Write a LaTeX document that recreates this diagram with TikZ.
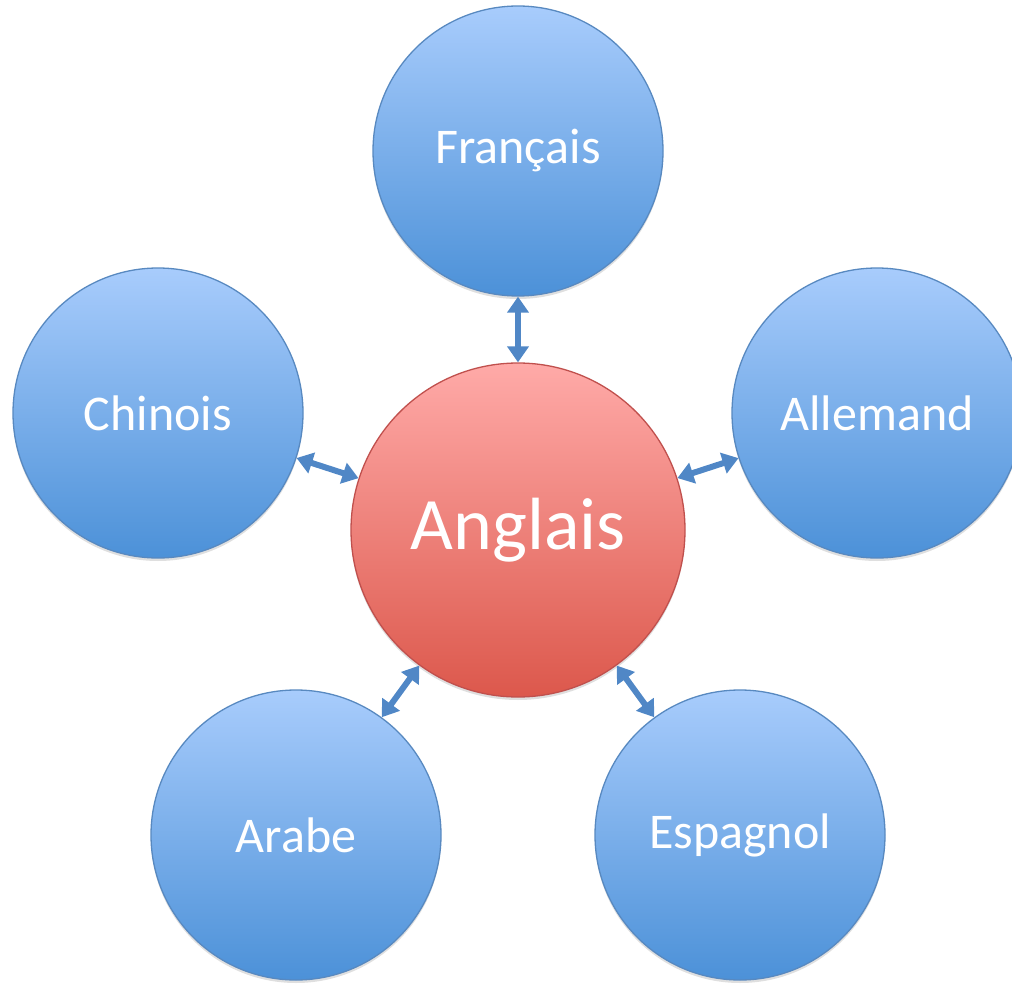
\documentclass[tikz,border=0pt]{standalone}
\usepackage{fontspec}
\setmainfont{Carlito}
\usetikzlibrary{arrows.meta,shadows}
\definecolor{bleuhaut}{RGB}{168,204,252}
\definecolor{bleubas}{RGB}{76,145,216}
\definecolor{bleubord}{RGB}{88,137,192}
\definecolor{rougehaut}{RGB}{255,170,168}
\definecolor{rougebas}{RGB}{220,88,76}
\definecolor{rougebord}{RGB}{192,80,77}
\definecolor{fleche}{RGB}{80,135,198}

\begin{document}
\begin{tikzpicture}[x=1pt,y=-1pt,line cap=round,line join=round,
		langue/.style={circle,draw=bleubord,line width=1.3pt,top color=bleuhaut,bottom color=bleubas,
			minimum size=290pt,inner sep=0pt,text=white,font=\fontsize{50}{54}\selectfont,
			drop shadow={opacity=0.25,shadow xshift=0pt,shadow yshift=-3pt}},
		centre/.style={langue,draw=rougebord,top color=rougehaut,bottom color=rougebas,
			minimum size=334pt,font=\fontsize{74}{78}\selectfont},
		lien/.style={{Triangle[width=21pt,length=16pt]}-{Triangle[width=21pt,length=16pt]},draw=fleche,line width=6pt,line cap=butt}]
	\useasboundingbox (0,0) rectangle (1012,987);
	\clip (0,0) rectangle (1012,987);
	% cercles
	\node[centre] (anglais) at (518,530) {Anglais};
	\node[langue] (francais) at (518,151) {Français};
	\node[langue] (chinois) at (158,413) {Chinois};
	\node[langue] (allemand) at (877,413) {Allemand};
	\node[langue] (arabe) at (296,835) {Arabe};
	\node[langue] (espagnol) at (740,835) {Espagnol};
	% fleches
	\draw[lien] (francais) -- (anglais);
	\draw[lien] (chinois) -- (anglais);
	\draw[lien] (allemand) -- (anglais);
	\draw[lien] (arabe) -- (anglais);
	\draw[lien] (espagnol) -- (anglais);
\end{tikzpicture}
\end{document}
